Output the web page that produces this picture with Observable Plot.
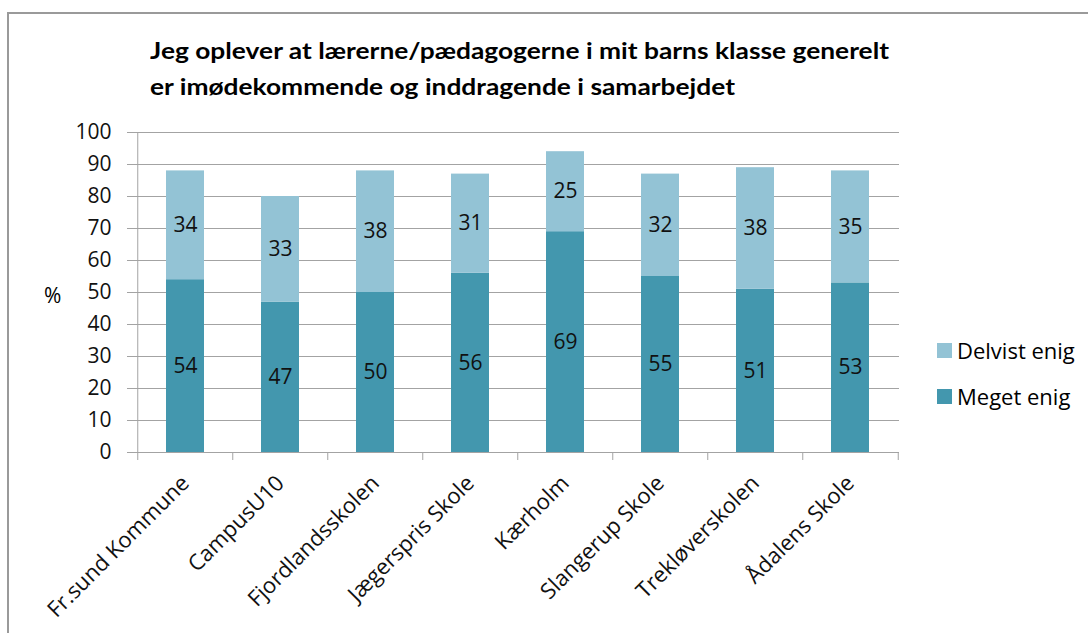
<!DOCTYPE html>
<html><head><meta charset="utf-8">
<script src="https://cdn.jsdelivr.net/npm/d3@7"></script>
<script src="https://cdn.jsdelivr.net/npm/@observablehq/plot@0.6"></script>
<style>
body{margin:0;background:#fff;}
#wrap{position:relative;width:1088px;height:633px;overflow:hidden;background:#fff;}
#frame{position:absolute;left:7px;top:12px;width:1200px;height:700px;border:2px solid #9a9a9a;}
#chart{position:absolute;left:0;top:0;}
#title{position:absolute;left:150px;top:32px;font:bold 23px Lato,sans-serif;line-height:36px;color:#000;white-space:nowrap;transform:scaleX(1.145);transform-origin:0 0;}
#ylab{position:absolute;left:44px;top:281px;font:21px "Open Sans",sans-serif;color:#000;}
.lg{position:absolute;left:937px;font:22px "Open Sans",sans-serif;color:#000;white-space:nowrap;display:flex;align-items:center;}
.lg span.sw{display:inline-block;width:15px;height:15px;margin-right:5px;}
</style></head><body>
<div id="wrap">
<div id="frame"></div>
<div id="chart"></div>
<div id="title">Jeg oplever at lærerne/pædagogerne i mit barns klasse generelt<br>er imødekommende og inddragende i samarbejdet</div>
<div id="ylab">%</div>
<div id="legend"></div>
</div>
<script>
const schools = ["Fr.sund Kommune","CampusU10","Fjordlandsskolen","Jægerspris Skole","Kærholm","Slangerup Skole","Trekløverskolen","Ådalens Skole"];
const megetEnig = [54,47,50,56,69,55,51,53];
const delvistEnig = [34,33,38,31,25,32,38,35];
const seriesNames = ["Meget enig","Delvist enig"];
const seriesColors = ["#4397AE","#93C3D5"];
const yTicks = [0,10,20,30,40,50,60,70,80,90,100];

const rows = schools.flatMap((s,i)=>[
  {school:s, series:seriesNames[0], value:megetEnig[i]},
  {school:s, series:seriesNames[1], value:delvistEnig[i]}
]);

const W=1088,H=633,mL=135,mR=189,mT=132,mB=181;
const step=(W-mL-mR)/schools.length;
const grid="#a3a3a3";

const chart = Plot.plot({
  width:W,height:H,marginLeft:mL,marginRight:mR,marginTop:mT,marginBottom:mB,
  style:{fontFamily:"'Open Sans',sans-serif",fontSize:"21px",color:"#000",background:"transparent"},
  x:{domain:schools,paddingInner:0.6,paddingOuter:0.3,axis:null},
  y:{domain:[0,100],axis:null},
  color:{domain:seriesNames,range:seriesColors},
  marks:[
    Plot.ruleY(yTicks,{stroke:grid,strokeWidth:1}),
    Plot.axisY(yTicks,{tickSize:8,tickPadding:16,stroke:grid,fill:"#111",fontSize:21,label:null}),
    Plot.ruleX([schools[0]],{x:d=>d,dx:-step/2,y1:0,y2:100,stroke:grid}),
    Plot.ruleX(schools,{x:d=>d,dx:-step/2,y1:0,y2:-2.5,stroke:grid}),
    Plot.ruleX([schools[schools.length-1]],{x:d=>d,dx:step/2,y1:0,y2:-2.5,stroke:grid}),
    Plot.barY(rows,{x:"school",y:"value",fill:"series",order:seriesNames}),
    Plot.text(rows,Plot.stackY({x:"school",y:"value",z:"series",order:seriesNames,text:d=>String(d.value),fill:"#111",fontSize:21})),
    Plot.axisX({tickRotate:-45,tickSize:0,tickPadding:27,fontSize:22,fill:"#111",label:null})
  ]
});
document.getElementById("chart").appendChild(chart);

const legend=document.getElementById("legend");
const legendItems=[{name:seriesNames[1],color:seriesColors[1],top:335},{name:seriesNames[0],color:seriesColors[0],top:381}];
for(const it of legendItems){
  const d=document.createElement("div");
  d.className="lg";
  d.style.top=it.top+"px";
  d.innerHTML=`<span class="sw" style="background:${it.color}"></span>${it.name}`;
  legend.appendChild(d);
}
</script>
</body></html>
